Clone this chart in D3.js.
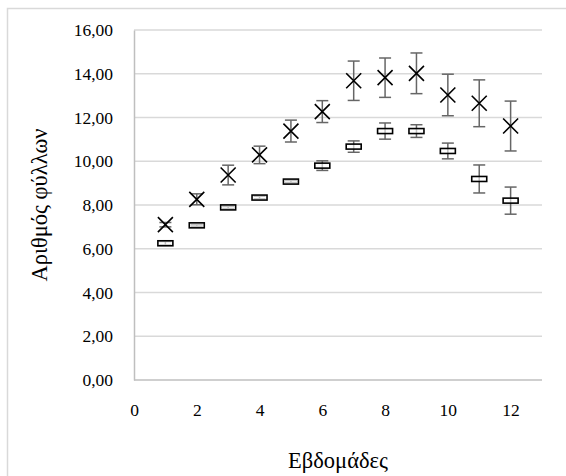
<!DOCTYPE html>
<html><head><meta charset="utf-8">
<script src="https://cdn.jsdelivr.net/npm/d3@7"></script>
<style>body{margin:0;background:#fff}svg{display:block}</style>
</head><body><svg id="c" width="566" height="476"></svg>
<script>
const weeks = [1,2,3,4,5,6,7,8,9,10,11,12];
const upperMean = [7.10, 8.26, 9.37, 10.29, 11.38, 12.27, 13.68, 13.82, 14.02, 13.03, 12.65, 11.61];
const upperErr  = [0.10, 0.25, 0.45, 0.40, 0.50, 0.50, 0.90, 0.90, 0.93, 0.95, 1.07, 1.14];
const lowerMean = [6.25, 7.07, 7.89, 8.34, 9.07, 9.80, 10.67, 11.38, 11.38, 10.47, 9.19, 8.20];
const lowerErr  = [0.08, 0.04, 0.05, 0.06, 0.05, 0.22, 0.26, 0.37, 0.29, 0.36, 0.64, 0.62];
const xTicks = [0,2,4,6,8,10,12];
const yTicks = [0,2,4,6,8,10,12,14,16];
const xTitle = "Εβδομάδες";
const yTitle = "Αριθμός φύλλων";

const FONT = "'Liberation Serif'";
const svg = d3.select("#c");
const L=134, R=542, T=30, B=380;
const x = d3.scaleLinear().domain([0,13]).range([L,R]);
const y = d3.scaleLinear().domain([0,16]).range([B,T]);
const fmt = v => d3.format(".2f")(v).replace(".", ",");

// outer border
svg.append("rect").attr("x",7.5).attr("y",8.5).attr("width",700).attr("height",700)
  .attr("fill","none").attr("stroke","#d9d9d9").attr("stroke-width",1.5);

// gridlines
svg.append("g").selectAll("line").data(yTicks.filter(d=>d>0)).join("line")
  .attr("x1",L).attr("x2",R).attr("y1",d=>y(d)).attr("y2",d=>y(d))
  .attr("stroke","#d9d9d9").attr("stroke-width",1.5);

// y axis
const ya = svg.append("g").attr("transform",`translate(${L},0)`)
  .call(d3.axisLeft(y).tickValues(yTicks).tickFormat(fmt).tickSize(0).tickPadding(21));
ya.attr("font-family",FONT).attr("font-size",17.5);
ya.select(".domain").attr("stroke","#bfbfbf").attr("stroke-width",1.5);
ya.selectAll("text").attr("fill","#000");
// x axis
const xa = svg.append("g").attr("transform",`translate(0,${B})`)
  .call(d3.axisBottom(x).tickValues(xTicks).tickFormat(d3.format("d")).tickSize(0).tickPadding(24));
xa.attr("font-family",FONT).attr("font-size",17.5);
xa.select(".domain").attr("stroke","#bfbfbf").attr("stroke-width",1.5).attr("d",`M${L},0H${R}`);
xa.selectAll("text").attr("fill","#000");

// titles
svg.append("text").attr("x",(L+R)/2).attr("y",468).attr("text-anchor","middle")
  .attr("font-family",FONT).attr("font-size",22.5).attr("fill","#000").text(xTitle);
svg.append("text").attr("transform",`translate(47,${(T+B)/2}) rotate(-90)`).attr("text-anchor","middle")
  .attr("font-family",FONT).attr("font-size",22.5).attr("fill","#000").text(yTitle);

function errBars(mean, err, cls){
  const g = svg.append("g").attr("class",cls);
  const d = weeks.map((w,i)=>({w, m:mean[i], e:err[i]}));
  g.selectAll(".v").data(d).join("line")
    .attr("x1",d=>x(d.w)).attr("x2",d=>x(d.w)).attr("y1",d=>y(d.m+d.e)).attr("y2",d=>y(d.m-d.e))
    .attr("stroke","#666").attr("stroke-width",1.5);
  [1,-1].forEach(s=>{
    g.selectAll(".c"+s).data(d).join("line")
      .attr("x1",d=>x(d.w)-6).attr("x2",d=>x(d.w)+6).attr("y1",d=>y(d.m+s*d.e)).attr("y2",d=>y(d.m+s*d.e))
      .attr("stroke","#666").attr("stroke-width",1.5);
  });
  return d;
}
const up = errBars(upperMean, upperErr, "eu");
const lo = errBars(lowerMean, lowerErr, "el");

// lower dash markers
svg.append("g").selectAll("rect").data(lo).join("rect")
  .attr("x",d=>x(d.w)-7.5).attr("y",d=>y(d.m)-2.5).attr("width",15).attr("height",5)
  .attr("fill","#fff").attr("fill-opacity",0.6).attr("stroke","#000").attr("stroke-width",1.6);

// upper X markers
svg.append("g").selectAll("path").data(up).join("path")
  .attr("d",d=>{const cx=x(d.w), cy=y(d.m), s=7.5; return `M${cx-s},${cy-s}L${cx+s},${cy+s}M${cx-s},${cy+s}L${cx+s},${cy-s}`;})
  .attr("stroke","#000").attr("stroke-width",1.6).attr("fill","none");
</script></body></html>
